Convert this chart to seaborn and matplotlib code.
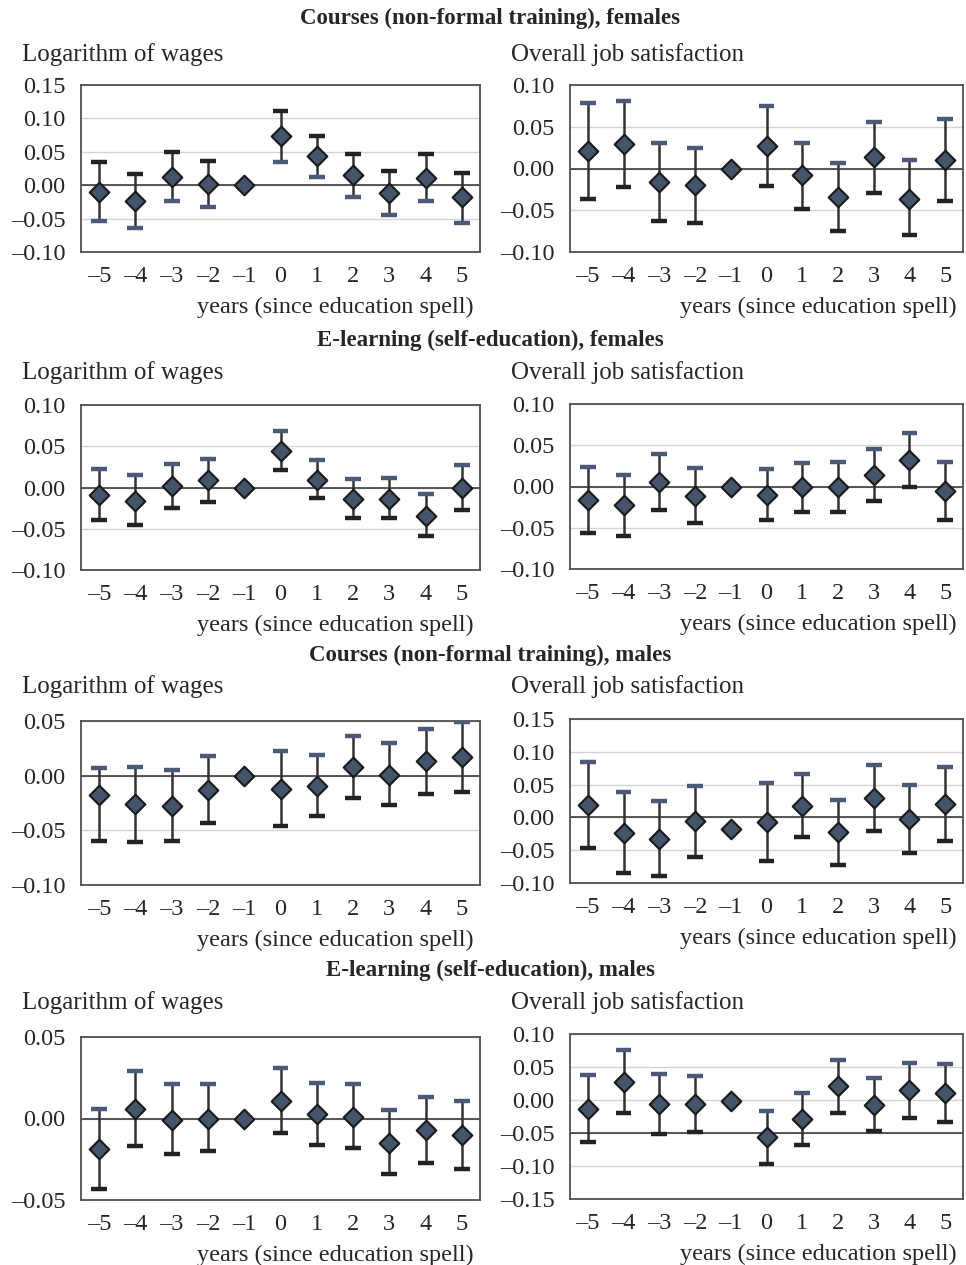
import numpy as np
import pandas as pd
import seaborn as sns
import matplotlib.pyplot as plt

years = list(range(-5, 6))
year_labels = [str(y).replace("-", "\u2013") for y in years]

# Courses (non-formal training), females
cf_wage_est = [-0.010, -0.024, 0.013, 0.002, 0.0, 0.073, 0.044, 0.015, -0.011, 0.011, -0.018]
cf_wage_hi = [0.034, 0.017, 0.050, 0.036, 0.0, 0.111, 0.074, 0.046, 0.022, 0.047, 0.019]
cf_wage_lo = [-0.054, -0.064, -0.023, -0.033, 0.0, 0.035, 0.012, -0.017, -0.045, -0.023, -0.056]
cf_sat_est = [0.021, 0.029, -0.016, -0.020, 0.0, 0.027, -0.008, -0.034, 0.014, -0.036, 0.010]
cf_sat_hi = [0.078, 0.081, 0.031, 0.024, 0.0, 0.075, 0.031, 0.007, 0.056, 0.010, 0.059]
cf_sat_lo = [-0.036, -0.022, -0.063, -0.065, 0.0, -0.021, -0.048, -0.075, -0.029, -0.080, -0.039]

# E-learning (self-education), females
ef_wage_est = [-0.009, -0.016, 0.002, 0.009, 0.0, 0.044, 0.009, -0.014, -0.014, -0.034, 0.000]
ef_wage_hi = [0.022, 0.015, 0.028, 0.035, 0.0, 0.068, 0.033, 0.010, 0.011, -0.008, 0.027]
ef_wage_lo = [-0.039, -0.046, -0.025, -0.017, 0.0, 0.021, -0.013, -0.037, -0.037, -0.059, -0.027]
ef_sat_est = [-0.016, -0.023, 0.005, -0.011, 0.0, -0.010, -0.001, 0.000, 0.014, 0.032, -0.006]
ef_sat_hi = [0.024, 0.014, 0.040, 0.023, 0.0, 0.021, 0.029, 0.030, 0.046, 0.065, 0.030]
ef_sat_lo = [-0.056, -0.060, -0.029, -0.044, 0.0, -0.040, -0.031, -0.031, -0.017, -0.001, -0.041]

# Courses (non-formal training), males
cm_wage_est = [-0.018, -0.026, -0.028, -0.013, 0.0, -0.012, -0.009, 0.008, 0.001, 0.013, 0.017]
cm_wage_hi = [0.007, 0.008, 0.005, 0.018, 0.0, 0.023, 0.019, 0.036, 0.030, 0.043, 0.049]
cm_wage_lo = [-0.060, -0.061, -0.060, -0.043, 0.0, -0.046, -0.037, -0.020, -0.027, -0.017, -0.015]
cm_sat_est = [0.019, -0.024, -0.033, -0.006, -0.018, -0.007, 0.018, -0.023, 0.030, -0.003, 0.021]
cm_sat_hi = [0.085, 0.038, 0.025, 0.048, -0.018, 0.053, 0.066, 0.026, 0.080, 0.049, 0.077]
cm_sat_lo = [-0.047, -0.084, -0.089, -0.060, -0.018, -0.067, -0.030, -0.073, -0.020, -0.055, -0.036]

# E-learning (self-education), males
em_wage_est = [-0.019, 0.006, -0.001, 0.000, 0.0, 0.011, 0.003, 0.001, -0.015, -0.007, -0.010]
em_wage_hi = [0.006, 0.029, 0.021, 0.021, 0.0, 0.031, 0.022, 0.021, 0.005, 0.013, 0.011]
em_wage_lo = [-0.043, -0.017, -0.022, -0.020, 0.0, -0.009, -0.016, -0.018, -0.034, -0.027, -0.031]
em_sat_est = [-0.013, 0.028, -0.006, -0.006, -0.001, -0.056, -0.029, 0.021, -0.007, 0.015, 0.011]
em_sat_hi = [0.038, 0.076, 0.039, 0.037, -0.001, -0.016, 0.010, 0.060, 0.033, 0.056, 0.054]
em_sat_lo = [-0.064, -0.020, -0.051, -0.049, -0.001, -0.097, -0.068, -0.020, -0.047, -0.028, -0.033]

section_titles = [
    "Courses (non-formal training), females",
    "E-learning (self-education), females",
    "Courses (non-formal training), males",
    "E-learning (self-education), males",
]

sns.set_style("white")
plt.rcParams["font.family"] = ["Liberation Serif", "DejaVu Serif"]

W, H = 966, 1265
fig = plt.figure(figsize=(W / 100, H / 100), dpi=100)

SLATE = "#4a5a78"
DARK = "#222222"


def add_ax(left, right, top, bottom):
    return fig.add_axes([left / W, 1 - bottom / H, (right - left) / W, (bottom - top) / H])


def draw_panel(ax, est, hi, lo, yticks, base=0.0, dark_on_top=False):
    df = pd.DataFrame({"pos": np.arange(len(years)), "est": est, "hi": hi, "lo": lo})
    for t in yticks:
        ax.axhline(t, color="#d4d4d4", lw=1.0, zorder=0)
    ax.axhline(base, color="#3c3c3c", lw=1.2, zorder=1)
    ax.vlines(df.pos, df.lo, df.hi, color="#333333", lw=1.8, zorder=2)
    hi_col, lo_col = (DARK, SLATE) if dark_on_top else (SLATE, DARK)
    ax.hlines(df.hi, df.pos - 0.22, df.pos + 0.22, color=hi_col, lw=3.2, zorder=3)
    ax.hlines(df.lo, df.pos - 0.22, df.pos + 0.22, color=lo_col, lw=3.2, zorder=3)
    sns.scatterplot(data=df, x="pos", y="est", marker="D", s=100, color="#44546a",
                    edgecolor="#1a1a1a", linewidth=1.5, zorder=4, ax=ax, legend=False)
    ax.set_xlim(-0.5, len(years) - 0.5)
    ax.set_ylim(yticks[0], yticks[-1])
    ax.set_xticks(np.arange(-0.5, len(years)))
    ax.set_xticklabels([])
    ax.set_xticks(np.arange(len(years)), minor=True)
    ax.set_xticklabels(year_labels, minor=True, fontsize=17.5)
    ax.tick_params(axis="x", which="major", length=8, width=1.2, color="#404040", direction="out")
    ax.tick_params(axis="x", which="minor", length=0, pad=10)
    ax.set_yticks(yticks)
    ax.set_yticklabels([f"{v:.2f}".replace("-", "\u2013") for v in yticks], fontsize=17.5)
    ax.tick_params(axis="y", length=5, width=1.2, color="#404040", direction="out", pad=6)
    ax.set_ylabel("")
    ax.set_xlabel("years (since education spell)", fontsize=17.5, loc="right", labelpad=7)
    ax.xaxis.label.set_x(0.985)
    for sp in ax.spines.values():
        sp.set_color("#505050")
        sp.set_linewidth(1.3)


yt_a = [-0.10, -0.05, 0.00, 0.05, 0.10, 0.15]
yt_b = [-0.10, -0.05, 0.00, 0.05, 0.10]
yt_c = [-0.10, -0.05, 0.00, 0.05]
yt_d = [-0.05, 0.00, 0.05]
yt_e = [-0.15, -0.10, -0.05, 0.00, 0.05, 0.10]

rows = [
    ((85, 252), (85, 252), cf_wage_est, cf_wage_hi, cf_wage_lo, yt_a, 0.0, True,
     cf_sat_est, cf_sat_hi, cf_sat_lo, yt_b, 0.0),
    ((405, 570), (404, 569), ef_wage_est, ef_wage_hi, ef_wage_lo, yt_b, 0.0, False,
     ef_sat_est, ef_sat_hi, ef_sat_lo, yt_b, 0.0),
    ((721, 885), (719, 883), cm_wage_est, cm_wage_hi, cm_wage_lo, yt_c, 0.0, False,
     cm_sat_est, cm_sat_hi, cm_sat_lo, yt_a, 0.0),
    ((1037, 1200), (1034, 1199), em_wage_est, em_wage_hi, em_wage_lo, yt_d, 0.0, False,
     em_sat_est, em_sat_hi, em_sat_lo, yt_e, -0.05),
]

title_y = [18, 340, 655, 970]
sub_y = [55, 373, 687, 1003]

for i, r in enumerate(rows):
    (lt, lb), (rt, rb), we, wh, wl, wyt, wbase, wdark, se, sh, sl, syt, sbase = r
    axl = add_ax(81, 480, lt, lb)
    draw_panel(axl, we, wh, wl, wyt, wbase, wdark)
    axr = add_ax(570, 963, rt, rb)
    draw_panel(axr, se, sh, sl, syt, sbase, False)
    fig.text(490 / W, 1 - title_y[i] / H, section_titles[i], ha="center", va="center",
             fontsize=16.5, fontweight="bold")
    fig.text(22 / W, 1 - sub_y[i] / H, "Logarithm of wages", ha="left", va="center", fontsize=18)
    fig.text(511 / W, 1 - sub_y[i] / H, "Overall job satisfaction", ha="left", va="center", fontsize=18)

fig.savefig("out.png", dpi=100)
